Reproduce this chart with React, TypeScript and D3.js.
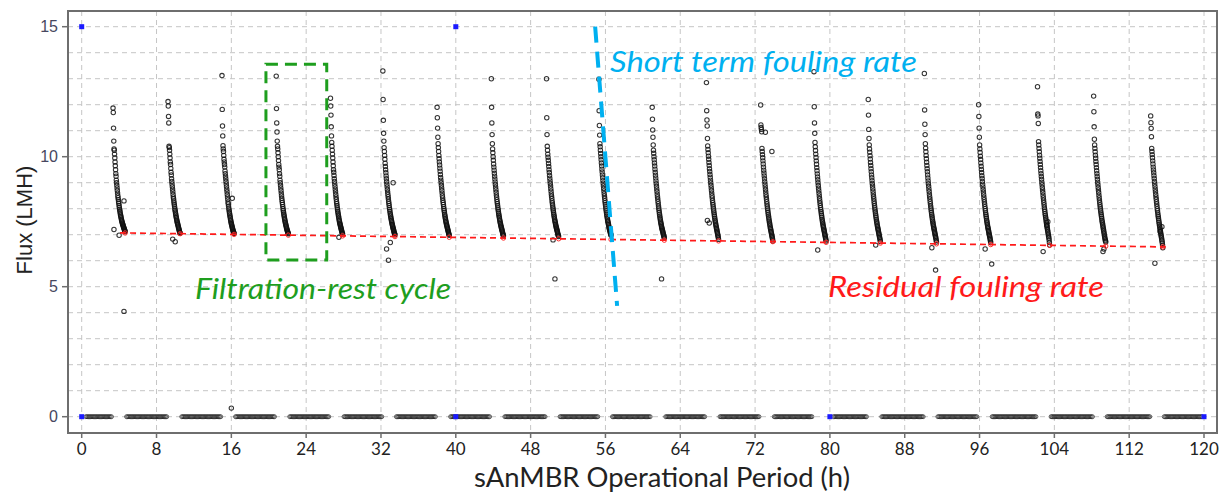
import React from 'react';
import * as d3 from 'd3';

// ---------- data ----------
const cycleStart = [3.35, 9.23, 15.0, 20.8, 26.6, 32.2, 38.0, 43.8, 49.7, 55.3, 61.0, 66.8, 72.6, 78.3, 84.1, 90.1, 95.9, 102.2, 108.2, 114.3];
const sampleStep = 0.027; // h between flux readings during filtration

const cycle01 = [11.87, 11.7, 11.1, 10.6, 10.3, 10.25, 10.1, 9.95, 9.8, 9.65, 9.5, 9.35, 9.25, 9.1, 9.0, 8.9, 8.8, 8.7, 8.6, 8.5, 8.42, 8.35, 8.27, 8.2, 8.12, 8.05, 7.98, 7.92, 7.86, 7.8, 7.75, 7.7, 7.65, 7.6, 7.56, 7.52, 7.48, 7.44, 7.41, 7.38, 7.35, 7.32, 7.29, 7.26, 7.23, 7.2, 7.17, 7.14, 7.12];
const cycle02 = [12.12, 11.95, 11.55, 11.3, 10.4, 10.35, 10.25, 10.1, 9.95, 9.8, 9.7, 9.55, 9.4, 9.3, 9.15, 9.05, 8.95, 8.85, 8.75, 8.65, 8.55, 8.45, 8.38, 8.3, 8.22, 8.15, 8.08, 8.0, 7.94, 7.88, 7.82, 7.76, 7.7, 7.65, 7.6, 7.55, 7.5, 7.46, 7.42, 7.38, 7.34, 7.3, 7.26, 7.22, 7.18, 7.14, 7.1, 7.08, 7.06];
const cycle03 = [13.12, 11.82, 11.18, 10.8, 10.42, 10.3, 10.2, 10.05, 9.9, 9.8, 9.7, 9.6, 9.45, 9.35, 9.25, 9.15, 9.05, 8.95, 8.85, 8.75, 8.65, 8.55, 8.45, 8.35, 8.25, 8.18, 8.1, 8.02, 7.95, 7.88, 7.82, 7.76, 7.7, 7.64, 7.58, 7.53, 7.48, 7.43, 7.39, 7.35, 7.31, 7.27, 7.23, 7.19, 7.15, 7.12, 7.09, 7.07, 7.05];
const cycle04 = [13.1, 11.85, 11.3, 10.95, 10.6, 10.4, 10.3, 10.15, 10.0, 9.85, 9.7, 9.6, 9.5, 9.35, 9.25, 9.1, 9.0, 8.9, 8.8, 8.7, 8.6, 8.5, 8.4, 8.32, 8.24, 8.16, 8.08, 8.0, 7.93, 7.86, 7.8, 7.74, 7.68, 7.62, 7.57, 7.52, 7.47, 7.42, 7.38, 7.34, 7.3, 7.26, 7.22, 7.18, 7.15, 7.12, 7.09, 7.06, 7.04];
const cycle05 = [12.25, 11.95, 11.6, 11.15, 10.8, 10.55, 10.4, 10.25, 10.1, 9.95, 9.8, 9.65, 9.5, 9.4, 9.28, 9.15, 9.05, 8.95, 8.85, 8.75, 8.65, 8.55, 8.45, 8.36, 8.27, 8.19, 8.11, 8.03, 7.96, 7.89, 7.83, 7.77, 7.71, 7.65, 7.59, 7.54, 7.49, 7.44, 7.4, 7.36, 7.32, 7.28, 7.24, 7.2, 7.16, 7.12, 7.08, 7.05, 7.03];
const cycle06 = [13.3, 12.2, 11.4, 10.9, 10.6, 10.35, 10.2, 10.05, 9.9, 9.75, 9.62, 9.5, 9.38, 9.26, 9.15, 9.04, 8.94, 8.84, 8.74, 8.64, 8.55, 8.46, 8.37, 8.28, 8.2, 8.12, 8.04, 7.97, 7.9, 7.83, 7.77, 7.71, 7.65, 7.6, 7.55, 7.5, 7.45, 7.4, 7.36, 7.32, 7.28, 7.24, 7.2, 7.16, 7.12, 7.08, 7.05, 7.02, 7.0];
const cycle07 = [11.9, 11.5, 11.1, 10.75, 10.5, 10.35, 10.2, 10.05, 9.92, 9.8, 9.68, 9.56, 9.44, 9.32, 9.2, 9.1, 9.0, 8.9, 8.8, 8.7, 8.6, 8.5, 8.41, 8.32, 8.24, 8.16, 8.08, 8.0, 7.93, 7.86, 7.79, 7.73, 7.67, 7.61, 7.56, 7.51, 7.46, 7.41, 7.37, 7.33, 7.29, 7.25, 7.21, 7.17, 7.13, 7.09, 7.05, 7.01, 6.98];
const cycle08 = [13.0, 11.9, 11.3, 10.85, 10.5, 10.3, 10.15, 10.0, 9.86, 9.72, 9.6, 9.48, 9.36, 9.25, 9.14, 9.03, 8.93, 8.83, 8.73, 8.63, 8.53, 8.44, 8.35, 8.27, 8.19, 8.11, 8.03, 7.96, 7.89, 7.82, 7.76, 7.7, 7.64, 7.58, 7.53, 7.48, 7.43, 7.38, 7.34, 7.3, 7.26, 7.22, 7.18, 7.14, 7.1, 7.06, 7.02, 6.99, 6.96];
const cycle09 = [13.0, 11.5, 10.85, 10.4, 10.25, 10.1, 9.98, 9.86, 9.74, 9.62, 9.5, 9.39, 9.28, 9.17, 9.07, 8.97, 8.87, 8.77, 8.67, 8.57, 8.48, 8.39, 8.3, 8.22, 8.14, 8.06, 7.99, 7.92, 7.85, 7.78, 7.72, 7.66, 7.6, 7.55, 7.5, 7.45, 7.4, 7.35, 7.31, 7.27, 7.23, 7.19, 7.15, 7.11, 7.07, 7.03, 6.99, 6.96, 6.93];
const cycle10 = [12.98, 11.77, 11.2, 10.83, 10.5, 10.38, 10.25, 10.12, 10.0, 9.88, 9.76, 9.64, 9.52, 9.41, 9.3, 9.19, 9.08, 8.98, 8.88, 8.78, 8.68, 8.58, 8.49, 8.4, 8.31, 8.23, 8.15, 8.07, 7.99, 7.92, 7.85, 7.78, 7.72, 7.66, 7.6, 7.54, 7.49, 7.44, 7.39, 7.34, 7.29, 7.25, 7.21, 7.17, 7.13, 7.09, 7.05, 7.01, 6.98];
const cycle11 = [11.9, 11.44, 11.03, 10.75, 10.45, 10.25, 10.13, 10.0, 9.88, 9.76, 9.64, 9.52, 9.4, 9.29, 9.18, 9.07, 8.96, 8.86, 8.76, 8.66, 8.56, 8.46, 8.37, 8.28, 8.19, 8.1, 8.02, 7.94, 7.86, 7.79, 7.72, 7.65, 7.59, 7.53, 7.47, 7.42, 7.37, 7.32, 7.27, 7.23, 7.19, 7.15, 7.11, 7.07, 7.03, 6.99, 6.95, 6.91, 6.87];
const cycle12 = [12.85, 11.77, 11.41, 11.18, 10.7, 10.41, 10.28, 10.15, 10.02, 9.9, 9.78, 9.66, 9.54, 9.43, 9.32, 9.21, 9.1, 9.0, 8.9, 8.8, 8.7, 8.6, 8.5, 8.41, 8.32, 8.23, 8.15, 8.07, 7.99, 7.91, 7.84, 7.77, 7.7, 7.63, 7.57, 7.51, 7.45, 7.39, 7.34, 7.29, 7.24, 7.19, 7.14, 7.09, 7.04, 6.99, 6.94, 6.88, 6.82];
const cycle13 = [11.99, 11.22, 11.12, 11.05, 10.96, 10.32, 10.2, 10.08, 9.96, 9.84, 9.72, 9.6, 9.48, 9.37, 9.26, 9.15, 9.04, 8.94, 8.84, 8.74, 8.64, 8.54, 8.45, 8.36, 8.27, 8.18, 8.1, 8.02, 7.94, 7.86, 7.79, 7.72, 7.65, 7.58, 7.52, 7.46, 7.4, 7.34, 7.28, 7.23, 7.18, 7.13, 7.08, 7.03, 6.98, 6.93, 6.88, 6.83, 6.76];
const cycle14 = [13.27, 11.92, 11.3, 10.9, 10.55, 10.38, 10.24, 10.1, 9.97, 9.84, 9.71, 9.58, 9.46, 9.34, 9.22, 9.11, 9.0, 8.89, 8.79, 8.69, 8.59, 8.49, 8.39, 8.3, 8.21, 8.12, 8.04, 7.96, 7.88, 7.81, 7.74, 7.67, 7.6, 7.54, 7.48, 7.42, 7.36, 7.31, 7.26, 7.21, 7.16, 7.11, 7.06, 7.01, 6.96, 6.91, 6.86, 6.81, 6.76];
const cycle15 = [12.2, 11.6, 11.05, 10.7, 10.45, 10.3, 10.17, 10.04, 9.91, 9.78, 9.66, 9.54, 9.42, 9.3, 9.19, 9.08, 8.97, 8.87, 8.77, 8.67, 8.57, 8.47, 8.38, 8.29, 8.2, 8.11, 8.03, 7.95, 7.87, 7.8, 7.73, 7.66, 7.59, 7.53, 7.47, 7.41, 7.35, 7.3, 7.25, 7.2, 7.15, 7.1, 7.05, 7.0, 6.95, 6.9, 6.85, 6.8, 6.74];
const cycle16 = [13.2, 11.8, 11.25, 10.85, 10.5, 10.33, 10.19, 10.05, 9.92, 9.79, 9.66, 9.54, 9.42, 9.3, 9.18, 9.07, 8.96, 8.86, 8.76, 8.66, 8.56, 8.46, 8.37, 8.28, 8.19, 8.1, 8.02, 7.94, 7.86, 7.79, 7.72, 7.65, 7.58, 7.52, 7.46, 7.4, 7.34, 7.29, 7.24, 7.19, 7.14, 7.09, 7.04, 6.99, 6.94, 6.89, 6.84, 6.78, 6.72];
const cycle17 = [12.0, 11.55, 11.1, 10.75, 10.45, 10.3, 10.16, 10.02, 9.89, 9.76, 9.63, 9.51, 9.39, 9.27, 9.16, 9.05, 8.94, 8.84, 8.74, 8.64, 8.54, 8.44, 8.35, 8.26, 8.17, 8.08, 8.0, 7.92, 7.84, 7.77, 7.7, 7.63, 7.56, 7.5, 7.44, 7.38, 7.32, 7.27, 7.22, 7.17, 7.12, 7.07, 7.02, 6.97, 6.92, 6.87, 6.82, 6.76, 6.7];
const cycle18 = [12.69, 11.64, 11.57, 11.28, 10.58, 10.45, 10.32, 10.19, 10.06, 9.94, 9.82, 9.7, 9.58, 9.46, 9.35, 9.24, 9.13, 9.02, 8.92, 8.82, 8.72, 8.62, 8.52, 8.42, 8.33, 8.24, 8.15, 8.06, 7.98, 7.9, 7.82, 7.75, 7.68, 7.61, 7.54, 7.47, 7.41, 7.35, 7.29, 7.23, 7.17, 7.11, 7.05, 6.99, 6.93, 6.87, 6.8, 6.7, 6.6];
const cycle19 = [12.33, 11.73, 11.15, 10.67, 10.45, 10.32, 10.19, 10.06, 9.94, 9.82, 9.7, 9.58, 9.46, 9.35, 9.24, 9.13, 9.02, 8.92, 8.82, 8.72, 8.62, 8.52, 8.42, 8.33, 8.24, 8.15, 8.07, 7.99, 7.91, 7.84, 7.77, 7.7, 7.63, 7.56, 7.5, 7.44, 7.38, 7.32, 7.26, 7.2, 7.14, 7.08, 7.02, 6.96, 6.9, 6.85, 6.8, 6.76, 6.72];
const cycle20 = [11.57, 11.31, 11.09, 10.77, 10.32, 10.2, 10.08, 9.96, 9.84, 9.72, 9.6, 9.49, 9.38, 9.27, 9.16, 9.05, 8.95, 8.85, 8.75, 8.65, 8.55, 8.45, 8.36, 8.27, 8.18, 8.09, 8.0, 7.92, 7.84, 7.76, 7.69, 7.62, 7.55, 7.48, 7.41, 7.35, 7.29, 7.23, 7.17, 7.11, 7.05, 6.99, 6.93, 6.87, 6.81, 6.75, 6.68, 6.6, 6.5];

// scattered readings
const outlierTime = [3.45, 4.0, 4.52, 4.52, 9.73, 10.0, 16.1, 16.0, 27.5, 33.3, 32.8, 33.0, 32.6, 50.4, 50.6, 62.0, 66.9, 67.1, 73.1, 73.8, 78.7, 84.9, 91.3, 90.9, 97.3, 96.6, 102.8, 103.3, 103.2, 109.2, 109.3, 114.75, 115.5, 115.3];
const outlierFlux = [7.2, 6.98, 8.3, 4.05, 6.83, 6.73, 8.4, 0.33, 6.9, 9.0, 6.02, 6.7, 6.45, 6.8, 5.3, 5.3, 7.55, 7.45, 10.94, 10.2, 6.41, 6.6, 5.64, 6.5, 5.87, 6.45, 6.35, 7.5, 7.35, 6.35, 6.45, 5.9, 7.31, 7.12];

// relaxation (rest) periods: flux = 0
const restStart = [0.45, 4.8, 10.7, 16.45, 22.25, 28.05, 33.65, 39.45, 45.25, 51.15, 56.75, 62.45, 68.25, 74.05, 80.4, 85.55, 91.55, 97.35, 103.65, 109.65, 115.75];
const restEnd = [3.25, 9.15, 14.9, 20.7, 26.5, 32.1, 37.9, 43.7, 49.6, 55.2, 60.9, 66.7, 72.5, 78.2, 84.0, 90.0, 95.8, 102.1, 108.1, 114.2, 119.9];
const restStep = 0.13;
const restFlux = 0;

// residual fouling trend
const residualTime = [4.1, 115.9];
const residualFlux = [7.07, 6.53];

// blue corner markers
const markerTime = [0, 40, 0, 40, 80, 120];
const markerFlux = [15, 15, 0, 0, 0, 0];

const xTickValues = [0, 8, 16, 24, 32, 40, 48, 56, 64, 72, 80, 88, 96, 104, 112, 120];
const yTickValues = [0, 5, 10, 15];
const yGridValues = [0, 1, 2, 3, 4, 5, 6, 7, 8, 9, 10, 11, 12, 13, 14, 15];

// annotations (data coordinates)
const boxTime = [19.7, 26.2];
const boxFlux = [6.03, 13.56];
const shortTermTime = [54.9, 57.25];
const shortTermFlux = [15.0, 4.26];

export default function App() {
  const x = d3.scaleLinear().domain([0, 120]).range([81.7, 1204]);
  const y = d3.scaleLinear().domain([0, 15]).range([416.7, 26.7]);
  const plotL = 68, plotR = 1217, plotT = 11, plotB = 433;

  const cycles = [cycle01, cycle02, cycle03, cycle04, cycle05, cycle06, cycle07, cycle08, cycle09, cycle10,
    cycle11, cycle12, cycle13, cycle14, cycle15, cycle16, cycle17, cycle18, cycle19, cycle20];

  const pts: { t: number; f: number }[] = [];
  cycles.forEach((arr, i) => arr.forEach((f, j) => pts.push({ t: cycleStart[i] + j * sampleStep, f })));
  outlierTime.forEach((t, i) => pts.push({ t, f: outlierFlux[i] }));
  const zeroPts: { t: number; f: number }[] = [];
  restStart.forEach((s, i) => {
    for (let t = s; t <= restEnd[i] + 1e-9; t += restStep) zeroPts.push({ t, f: restFlux });
  });

  const trend = d3.scaleLinear().domain(residualTime).range(residualFlux);
  const cycleEnds = cycles.map((arr, i) => cycleStart[i] + (arr.length - 1) * sampleStep);

  const gridColor = '#c6c6c6';
  const frameColor = '#6e6e6e';
  const green = '#1e9e1e';
  const cyan = '#00b0f0';
  const red = '#ff1a1a';
  const calibriLike = "Lato, 'Open Sans', sans-serif";

  return (
    <svg width={1220} height={494} style={{ position: 'absolute', left: 0, top: 0, background: '#fff' }}
      fontFamily={calibriLike}>
      <rect x={0} y={0} width={1220} height={494} fill="#fff" />
      {/* grid */}
      {yGridValues.map(v => (
        <line key={'gy' + v} x1={plotL} x2={plotR} y1={y(v)} y2={y(v)} stroke={gridColor} strokeWidth={1} strokeDasharray="5,4" />
      ))}
      {xTickValues.map(v => (
        <line key={'gx' + v} x1={x(v)} x2={x(v)} y1={plotT} y2={plotB} stroke={gridColor} strokeWidth={1} strokeDasharray="5,4" />
      ))}

      {/* points */}
      <g fill="none" stroke="#111" strokeWidth={1.05} strokeOpacity={0.85}>
        {pts.map((p, i) => (
          <circle key={i} cx={x(p.t)} cy={y(p.f)} r={2.2} />
        ))}
      </g>
      <g fill="none" stroke="#222" strokeWidth={0.9} strokeOpacity={0.8}>
        {zeroPts.map((p, i) => (
          <circle key={'z' + i} cx={x(p.t)} cy={y(p.f)} r={2.0} />
        ))}
      </g>

      {/* residual trend */}
      <line x1={x(residualTime[0])} y1={y(residualFlux[0])} x2={x(residualTime[1])} y2={y(residualFlux[1])}
        stroke={red} strokeWidth={1.7} strokeDasharray="6,4" />
      <g fill="none" stroke={red} strokeWidth={0.9}>
        {cycleEnds.map((t, i) => (
          <circle key={'r' + i} cx={x(t)} cy={y(trend(t))} r={2.2} />
        ))}
      </g>

      {/* blue markers */}
      {markerTime.map((t, i) => (
        <rect key={'m' + i} x={x(t) - 2.5} y={y(markerFlux[i]) - 2.5} width={5} height={5} fill="#1a1aff" />
      ))}

      {/* frame */}
      <rect x={plotL} y={plotT} width={plotR - plotL} height={plotB - plotT} fill="none" stroke={frameColor} strokeWidth={2} />

      {/* y axis ticks & labels */}
      {yTickValues.map(v => (
        <g key={'yt' + v}>
          <line x1={plotL - 6} x2={plotL} y1={y(v)} y2={y(v)} stroke={frameColor} strokeWidth={1.5} />
          <text x={58} y={y(v)} dy="0.36em" textAnchor="end" fontSize={16} fill="#474760"
            fontFamily="'Liberation Sans', Arial, sans-serif">{v}</text>
        </g>
      ))}
      {/* x axis ticks & labels */}
      {xTickValues.map(v => (
        <g key={'xt' + v}>
          <line x1={x(v)} x2={x(v)} y1={plotB} y2={plotB + 5} stroke={frameColor} strokeWidth={1.5} />
          <text x={x(v)} y={455} textAnchor="middle" fontSize={17} fill="#222">{v}</text>
        </g>
      ))}

      {/* axis titles */}
      <text transform={`translate(32,220) rotate(-90)`} textAnchor="middle" fontSize={22} fill="#222"
        fontFamily="'Liberation Sans', Arial, sans-serif">Flux (LMH)</text>
      <text x={474} y={487} fontSize={27} fill="#222" textLength={376} lengthAdjust="spacingAndGlyphs">sAnMBR Operational Period (h)</text>

      {/* annotations */}
      <rect x={x(boxTime[0])} y={y(boxFlux[1])} width={x(boxTime[1]) - x(boxTime[0])} height={y(boxFlux[0]) - y(boxFlux[1])}
        fill="none" stroke={green} strokeWidth={3} strokeDasharray="12,7" />
      <text x={195} y={299} fontSize={29} fontStyle="italic" fill={green} textLength={256} lengthAdjust="spacingAndGlyphs">Filtration-rest cycle</text>

      <line x1={x(shortTermTime[0])} y1={y(shortTermFlux[0])} x2={x(shortTermTime[1])} y2={y(shortTermFlux[1])}
        stroke={cyan} strokeWidth={4} strokeDasharray="16,9" />
      <text x={610} y={72} fontSize={29} fontStyle="italic" fill={cyan} textLength={307} lengthAdjust="spacingAndGlyphs">Short term fouling rate</text>

      <text x={828} y={297} fontSize={29} fontStyle="italic" fill={red} textLength={276} lengthAdjust="spacingAndGlyphs">Residual fouling rate</text>
    </svg>
  );
}
